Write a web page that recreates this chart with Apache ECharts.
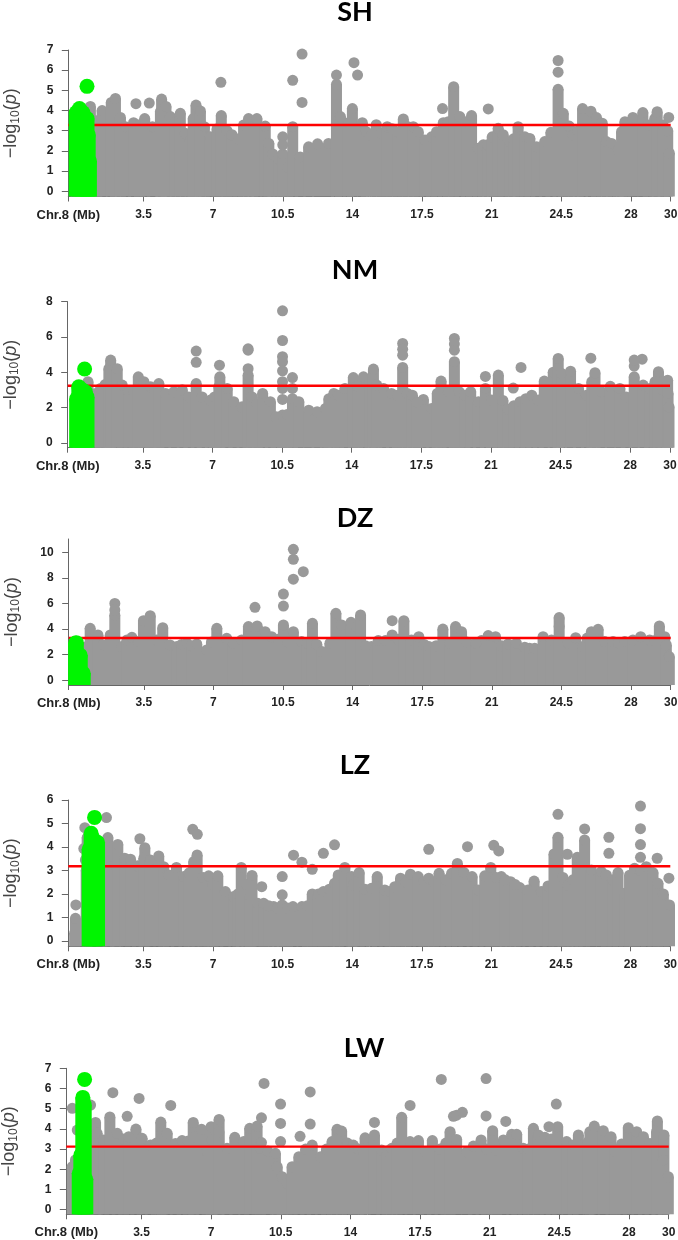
<!DOCTYPE html>
<html><head><meta charset="utf-8">
<style>html,body{margin:0;padding:0;background:#fff}#c{width:678px;height:1240px}</style>
<script src="https://cdn.jsdelivr.net/npm/echarts@6/dist/echarts.min.js"></script>
</head><body><div id="c"></div>
<script>
// Tick positions (Mb) and their labels
const xTicks = [-0.28, 3.5, 7, 10.5, 14, 17.5, 21, 24.5, 28, 30];
const xLabels = ['{c|Chr.8 (Mb)}', '3.5', '7', '10.5', '14', '17.5', '21', '24.5', '28', '30'];

const thresholdSH = 3.28, thresholdNM = 3.23, thresholdDZ = 3.3, thresholdLZ = 3.18, thresholdLW = 3.12;

// [Mb, top value of the solid run of points]
const columnsSH = [[0.1,3],[0.4,3.2],[0.83,4.2],[1.15,3.5],[1.42,4.0],[1.88,4.4],[2.09,4.6],[2.34,3.66],[2.6,3.2],[3.0,3.4],[3.3,3.3],[3.56,3.6],[3.95,3.2],[4.35,3.95],[4.41,4.57],[4.63,4.2],[4.85,3.7],[5.1,3.4],[5.35,3.86],[5.6,2.87],[5.85,2.5],[6.0,3.6],[6.14,4.27],[6.36,3.98],[6.56,3.2],[6.86,2.7],[7.2,3.1],[7.41,3.75],[7.7,3.0],[7.95,2.8],[8.28,2.6],[8.53,3.28],[8.78,3.6],[9.0,3.2],[9.2,3.6],[9.62,3.23],[9.8,2.37],[10.0,1.85],[10.3,1.6],[10.5,1.85],[10.75,1.2],[11.0,3.2],[11.38,1.7],[11.8,2.2],[12.25,2.35],[12.8,2.37],[13.2,5.3],[13.4,3.7],[13.8,3.4],[14.0,4.1],[14.5,3.4],[14.7,2.95],[14.96,2.74],[15.2,3.3],[15.47,2.87],[15.75,3.2],[16.0,3.1],[16.27,2.95],[16.56,3.58],[16.8,3.2],[17.06,3.2],[17.31,2.95],[17.65,2.54],[17.98,2.7],[18.23,2.95],[18.57,3.4],[18.82,3.45],[19.09,5.18],[19.4,3.7],[19.74,3.45],[19.99,3.75],[20.33,2.13],[20.58,2.3],[20.8,2.3],[21.03,2.7],[21.33,3.12],[21.58,2.8],[21.92,2.46],[22.1,2.6],[22.33,3.2],[22.67,2.7],[22.92,2.62],[23.26,2.2],[23.67,2.46],[23.98,2.92],[24.34,5.05],[24.6,3.86],[24.9,3.23],[25.1,2.8],[25.35,3.0],[25.57,4.1],[25.99,3.97],[26.27,3.65],[26.56,3.37],[26.77,2.46],[27.03,2.37],[27.36,2.05],[27.53,2.95],[27.7,3.45],[28.1,3.66],[28.6,3.9],[28.87,3.28],[29.2,3.6],[29.32,3.94],[29.62,3.28],[29.85,3.0],[29.93,1.9]];
const dotsSH = [[3.12,4.34],[3.79,4.37],[7.39,5.4],[11.0,5.5],[11.47,6.8],[11.47,4.4],[10.5,2.7],[10.5,2.3],[13.2,5.76],[14.08,6.37],[14.26,5.76],[18.53,4.1],[20.83,4.08],[24.34,6.48],[24.34,5.9],[29.9,3.66]];
const greenColumnsSH = [[0.12,3.9],[0.28,4.1],[0.45,3.9],[0.66,3.6],[0.72,2.8],[0.78,1.5]];
const greenDotsSH = [[0.66,5.2]];

const columnsNM = [[0.74,3.46],[1.12,2.8],[1.37,3.08],[1.6,3.3],[1.79,4.2],[1.88,4.69],[2.21,4.2],[2.46,3.27],[2.8,2.9],[3.05,2.9],[3.27,3.74],[3.55,3.46],[3.89,3.18],[4.1,3.0],[4.3,3.36],[4.64,2.8],[5.06,2.9],[5.48,3.0],[5.81,2.6],[6.18,3.36],[6.48,2.6],[6.9,2.42],[7.1,2.6],[7.32,3.18],[7.37,3.74],[7.74,3.08],[8.07,2.33],[8.49,2.04],[8.79,3.84],[8.99,2.6],[9.25,2.2],[9.52,2.8],[9.91,2.33],[10.2,1.47],[10.52,1.57],[10.75,1.6],[11.02,2.5],[11.34,2.33],[11.84,1.85],[12.26,1.76],[12.68,1.95],[12.85,2.5],[13.1,2.8],[13.33,2.7],[13.66,3.08],[14.08,3.7],[14.3,3.2],[14.59,3.74],[14.92,3.55],[15.09,4.18],[15.26,3.27],[15.6,3.08],[16.0,2.8],[16.3,2.7],[16.56,4.27],[16.8,2.8],[17.05,2.7],[17.6,2.46],[17.3,2.3],[18.02,1.95],[18.3,2.8],[18.49,3.5],[18.86,2.9],[19.16,4.6],[19.4,2.9],[19.69,2.7],[19.98,2.9],[20.37,2.33],[20.72,3.08],[21.03,2.42],[21.37,3.84],[21.6,2.4],[21.87,1.9],[22.15,2.1],[22.46,2.33],[22.75,2.5],[23.05,2.7],[23.38,2.42],[23.68,3.5],[24.13,4.0],[24.38,4.78],[24.55,3.93],[25.0,4.06],[25.4,3.08],[25.8,2.7],[26.07,3.46],[26.23,3.97],[26.56,2.9],[27.0,3.2],[27.48,3.08],[27.8,2.6],[28.2,3.74],[28.65,3.27],[28.98,3.08],[29.25,3.46],[29.42,4.03],[29.65,3.0],[29.88,3.55],[29.9,2.8],[29.95,2.04],[0.25,1.9]];
const dotsNM = [[6.18,5.2],[6.18,4.56],[7.35,4.4],[8.79,5.33],[8.79,5.25],[8.79,4.2],[10.52,7.48],[10.52,5.8],[10.52,4.88],[10.52,4.6],[10.52,4.08],[10.52,3.46],[10.52,3.08],[10.52,2.46],[11.02,3.7],[11.02,3.08],[16.56,5.63],[16.56,5.3],[16.56,4.97],[19.16,5.92],[19.16,5.6],[19.16,5.25],[20.72,3.76],[22.12,3.1],[22.51,4.27],[26.02,4.8],[28.6,4.74],[28.2,4.35],[28.2,4.69]];
const greenColumnsNM = [[0.17,2.5],[0.28,3.18],[0.45,3.0],[0.6,2.9],[0.69,2.6]];
const greenDotsNM = [[0.57,4.18]];

const columnsDZ = [[0.55,2.6],[0.8,4.06],[1.19,3.54],[1.47,2.76],[1.81,3.54],[2.04,5.1],[2.39,2.63],[2.65,3.15],[2.9,3.36],[3.23,3.02],[3.48,4.66],[3.82,5.05],[4.15,3.15],[4.45,4.11],[4.82,2.76],[5.16,2.63],[5.4,2.8],[5.66,2.9],[5.9,2.7],[6.16,2.84],[6.66,2.37],[6.9,3.0],[7.17,4.06],[7.67,3.28],[8.0,2.9],[8.42,3.15],[8.76,4.2],[9.2,4.24],[9.6,3.8],[9.93,3.41],[10.25,3.2],[10.52,4.32],[10.75,3.0],[11.02,3.8],[11.44,3.02],[11.7,2.9],[11.98,4.45],[12.2,2.8],[12.45,2.24],[12.86,2.9],[13.16,5.23],[13.45,4.32],[13.92,4.53],[14.2,4.2],[14.4,5.1],[14.95,2.63],[14.65,2.7],[15.29,3.1],[15.65,3.1],[15.99,3.54],[16.3,3.2],[16.58,4.66],[16.96,3.15],[17.33,3.41],[17.6,2.8],[17.84,2.63],[18.2,2.7],[18.54,4.0],[18.89,2.9],[19.18,4.2],[19.48,3.8],[19.98,2.76],[19.75,3.0],[20.48,3.1],[20.2,2.9],[20.82,3.49],[21.19,3.41],[21.5,2.7],[21.82,2.84],[22.24,2.9],[22.66,2.58],[22.9,2.5],[23.16,2.5],[23.58,3.41],[24.0,3.15],[24.39,4.9],[24.84,2.9],[25.22,3.33],[25.59,2.63],[25.8,3.3],[26.01,3.8],[26.35,3.98],[26.68,3.02],[27.1,3.02],[27.4,2.9],[27.69,3.02],[28.1,3.15],[28.49,3.41],[28.94,3.15],[29.2,3.1],[29.43,4.24],[29.7,3.41],[29.78,2.76],[29.93,1.85],[0.25,2.0]];
const dotsDZ = [[2.04,6.0],[2.04,5.5],[9.09,5.7],[10.52,6.74],[10.52,5.8],[11.02,10.23],[11.02,9.45],[11.02,7.9],[11.52,8.49],[15.99,4.66],[24.39,4.2]];
const greenColumnsDZ = [[0.07,2.9],[0.1,2.94],[0.3,1.95],[0.45,0.55]];
const greenDotsDZ = [];

const columnsLZ = [[0.04,0.33],[0.08,0.96],[0.62,3.0],[0.67,4.4],[1.71,4.4],[1.4,3.4],[1.76,3.73],[2.09,3.23],[2.21,4.11],[2.56,3.52],[2.85,3.48],[3.2,3.2],[3.52,3.52],[3.57,3.97],[3.85,3.45],[4.27,3.62],[4.52,3.16],[4.77,2.81],[5.16,3.13],[5.53,2.74],[5.8,2.9],[6.03,3.38],[6.2,3.66],[6.5,2.7],[6.78,2.77],[7.0,2.4],[7.24,2.77],[7.62,2.1],[8.04,1.89],[8.25,2.0],[8.42,3.13],[8.7,2.4],[8.88,1.89],[8.96,2.79],[9.25,1.6],[9.55,1.6],[10.05,1.46],[9.8,1.5],[10.25,1.4],[10.48,1.53],[10.75,1.4],[11.02,1.46],[11.47,1.46],[11.75,1.5],[11.99,2.0],[12.3,2.0],[12.55,2.1],[12.85,2.2],[13.11,2.45],[13.3,2.81],[13.63,3.13],[13.97,2.74],[14.05,2.38],[14.35,2.91],[14.64,2.2],[14.97,2.24],[15.26,2.74],[15.64,2.17],[15.9,2.1],[16.14,2.31],[16.43,2.67],[16.7,2.5],[16.93,2.84],[17.32,2.74],[17.6,2.5],[17.85,2.67],[18.1,2.5],[18.37,2.88],[18.7,2.6],[19.0,2.88],[19.29,3.3],[19.63,2.91],[20.03,2.74],[20.33,2.17],[20.67,2.77],[20.97,3.13],[21.5,2.74],[21.25,2.7],[21.97,2.52],[21.7,2.6],[22.43,2.27],[22.2,2.4],[22.84,2.17],[23.15,2.55],[23.51,2.1],[23.85,2.34],[24.15,3.7],[24.35,4.41],[24.6,2.7],[24.85,2.38],[25.1,2.6],[25.32,3.56],[25.5,3.4],[25.69,4.3],[26.03,3.02],[26.53,2.95],[26.78,2.81],[27.1,2.6],[27.37,2.91],[27.7,2.03],[27.95,2.8],[28.2,3.09],[28.5,3.0],[28.79,3.16],[29.13,2.91],[29.38,2.45],[29.65,2.0],[29.96,1.53]];
const dotsLZ = [[0.1,1.53],[0.55,4.82],[0.5,3.93],[0.58,3.45],[1.64,5.25],[3.32,4.35],[5.98,4.75],[6.21,4.54],[9.45,2.31],[10.48,2.74],[10.48,1.96],[11.05,3.65],[11.47,3.35],[11.99,3.05],[12.55,3.73],[13.11,4.09],[17.85,3.9],[19.8,4.01],[21.12,4.07],[21.37,3.83],[24.35,5.39],[24.82,3.69],[25.69,4.77],[26.91,4.41],[26.91,3.73],[28.5,5.74],[28.5,4.78],[28.5,4.1],[28.5,3.56],[29.34,3.52],[29.93,2.67]];
const greenColumnsLZ = [[0.77,3.9],[0.87,4.58],[1.0,4.3],[1.19,4.2]];
const greenDotsLZ = [[1.04,5.26]];

const columnsLW = [[0.02,2.13],[0.18,2.46],[0.8,3.2],[1.19,4.32],[1.27,3.78],[1.6,3.45],[1.91,4.59],[2.28,3.78],[2.6,3.5],[2.86,3.61],[3.22,3.99],[3.53,3.53],[3.95,3.2],[4.25,3.3],[4.47,4.34],[4.54,3.78],[4.79,3.78],[5.21,3.28],[5.54,3.42],[5.85,3.4],[6.1,4.32],[6.13,3.61],[6.52,3.98],[6.8,2.87],[7.0,4.11],[7.05,3.45],[7.4,4.47],[7.39,3.86],[7.8,3.04],[8.19,3.58],[8.64,3.37],[8.94,4.03],[9.31,4.14],[9.48,3.04],[9.85,2.9],[10.23,2.79],[10.32,2.13],[10.57,1.63],[10.82,1.3],[11.07,2.13],[11.41,2.62],[11.75,3.0],[12.08,3.2],[12.5,2.62],[12.8,3.0],[13.08,3.37],[13.33,3.98],[13.56,3.89],[13.85,3.3],[14.15,3.2],[14.4,3.0],[14.65,2.87],[14.74,3.56],[15.21,3.7],[15.57,2.95],[15.85,2.9],[16.08,3.04],[16.35,3.3],[16.58,4.57],[17.0,3.37],[17.42,3.42],[17.79,2.87],[18.12,3.42],[18.5,3.0],[18.8,3.3],[19.01,3.86],[19.34,3.48],[19.85,2.87],[20.18,3.15],[20.57,3.45],[20.85,3.0],[21.15,3.91],[21.35,2.95],[21.69,3.45],[22.11,3.73],[22.36,3.73],[22.69,3.04],[22.95,3.0],[23.2,4.03],[23.45,3.7],[23.78,3.58],[24.1,3.5],[24.42,4.11],[24.87,3.37],[25.2,3.2],[25.46,3.7],[25.96,3.37],[26.04,3.86],[26.26,4.14],[26.71,3.91],[27.1,3.61],[27.3,2.87],[27.63,3.25],[27.97,4.06],[28.39,3.86],[28.73,3.61],[29.06,3.28],[29.39,3.86],[29.43,4.39],[29.76,3.7],[29.73,2.46],[29.98,1.63]];
const dotsLW = [[0.02,5.02],[0.27,3.94],[0.94,5.18],[2.06,5.79],[2.78,4.62],[3.38,5.51],[4.97,5.16],[9.53,4.55],[9.53,3.32],[9.66,6.25],[10.49,5.23],[10.49,4.27],[10.49,3.37],[11.47,3.63],[11.98,5.83],[11.98,4.24],[15.21,4.32],[17.0,5.16],[18.57,6.45],[19.18,4.62],[19.34,4.68],[19.63,4.82],[20.82,6.49],[20.82,4.64],[21.81,4.37],[23.98,4.11],[24.35,5.23]];
const greenColumnsLW = [[0.37,1.8],[0.45,2.7],[0.55,5.56],[0.62,5.2],[0.7,1.5]];
const greenDotsLW = [[0.64,6.45]];

const GRAY = '#999999', GREEN = '#00f500', RED = '#ff0000', AXIS = '#666666', INK = '#222222';

const panels = [
  {name:'SH', tc:[355,12],   left:68.3, right:670.7, top:50,    bottom:196.5,  min:-0.26, max:7,  yt:[0,1,2,3,4,5,6,7],   th:thresholdSH, col:columnsSH, dots:dotsSH, gc:greenColumnsSH, gd:greenDotsSH},
  {name:'NM', tc:[355,270],  left:67.7, right:670,   top:301.7, bottom:447.7,  min:-0.28, max:8,  yt:[0,2,4,6,8],         th:thresholdNM, col:columnsNM, dots:dotsNM, gc:greenColumnsNM, gd:greenDotsNM},
  {name:'DZ', tc:[355,518],  left:68.7, right:670.7, top:539,   bottom:685,    min:-0.37, max:11.04, yt:[0,2,4,6,8,10],    th:thresholdDZ, col:columnsDZ, dots:dotsDZ, gc:greenColumnsDZ, gd:greenDotsDZ},
  {name:'LZ', tc:[355,765],  left:68.3, right:670.3, top:800,   bottom:946.3,  min:-0.23, max:6,  yt:[0,1,2,3,4,5,6],     th:thresholdLZ, col:columnsLZ, dots:dotsLZ, gc:greenColumnsLZ, gd:greenDotsLZ},
  {name:'LW', tc:[364,1048], left:66.3, right:668.7, top:1068.3,bottom:1214.3, min:-0.23, max:7,  yt:[0,1,2,3,4,5,6,7],   th:thresholdLW, col:columnsLW, dots:dotsLW, gc:greenColumnsLW, gd:greenDotsLW}
];

function columnSeries(i, data, fill, r, baseVal, z) {
  return {
    type:'custom', xAxisIndex:i, yAxisIndex:i, z, silent:true, data,
    encode:{x:0,y:1},
    renderItem(params, api) {
      const x = api.value(0), y = api.value(1);
      const p = api.coord([x,y]), b = api.coord([x,baseVal]);
      return {type:'group', children:[
        {type:'rect', shape:{x:p[0]-r, y:p[1], width:2*r, height:b[1]-p[1]}, style:{fill}},
        {type:'circle', shape:{cx:p[0], cy:p[1], r}, style:{fill}}
      ]};
    }
  };
}

const titles=[], grids=[], xAxes=[], yAxes=[], series=[];
panels.forEach((P,i)=>{
  titles.push({text:P.name, left:P.tc[0], top:P.tc[1], padding:0, textAlign:'center', textVerticalAlign:'middle',
    textStyle:{fontFamily:'Lato', fontWeight:'bold', fontSize:27, color:'#000'}});
  grids.push({left:P.left, width:P.right-P.left, top:P.top, height:P.bottom-P.top, containLabel:false, outerBoundsMode:'none'});
  xAxes.push({gridIndex:i, type:'value', min:xTicks[0], max:30, splitLine:{show:false},
    axisLine:{onZero:false, lineStyle:{color:AXIS,width:1}},
    axisTick:{length:5, customValues:xTicks, lineStyle:{color:AXIS}},
    axisLabel:{customValues:xTicks, margin:12, hideOverlap:false, showMinLabel:true, showMaxLabel:true,
      fontFamily:'Liberation Sans', fontWeight:'bold', fontSize:12, color:INK,
      rich:{c:{fontFamily:'Liberation Sans', fontWeight:'bold', fontSize:13, color:INK}},
      formatter:(v)=>xLabels[xTicks.indexOf(v)]}});
  yAxes.push({gridIndex:i, type:'value', min:P.min, max:P.max, splitLine:{show:false},
    axisLine:{show:true, onZero:false, lineStyle:{color:AXIS,width:1}},
    axisTick:{show:true, length:6.5, customValues:P.yt, lineStyle:{color:AXIS}},
    axisLabel:{customValues:P.yt, margin:15, fontFamily:'Liberation Sans', fontWeight:'bold', fontSize:12, color:INK},
    name:'{a|\u2212log}{s|10}{a|(}{i|p}{a|)}', nameLocation:'middle', nameGap:47, nameRotate:90,
    nameTextStyle:{rich:{
      a:{fontFamily:'Liberation Sans', fontSize:18, color:'#444'},
      s:{fontFamily:'Liberation Sans', fontSize:12, color:'#444', verticalAlign:'bottom', lineHeight:20},
      i:{fontFamily:'Liberation Sans', fontSize:18, fontStyle:'italic', color:'#444'}}}});
  series.push(columnSeries(i, P.col, GRAY, 5.5, P.min, 2));
  series.push({type:'scatter', xAxisIndex:i, yAxisIndex:i, z:2, silent:true, symbolSize:11, clip:false,
    itemStyle:{color:GRAY, opacity:1}, data:P.dots});
  series.push({type:'line', xAxisIndex:i, yAxisIndex:i, z:3, silent:true, showSymbol:false, clip:false,
    lineStyle:{color:RED,width:2.4}, data:[[xTicks[0],P.th],[30,P.th]]});
  series.push(columnSeries(i, P.gc, GREEN, 7.5, P.min, 4));
  series.push({type:'scatter', xAxisIndex:i, yAxisIndex:i, z:4, silent:true, symbolSize:15, clip:false,
    itemStyle:{color:GREEN, opacity:1}, data:P.gd});
});

const chart = echarts.init(document.getElementById('c'), null, {renderer:'canvas'});
chart.setOption({animation:false, backgroundColor:'#fff', title:titles, grid:grids, xAxis:xAxes, yAxis:yAxes, series});
</script></body></html>
